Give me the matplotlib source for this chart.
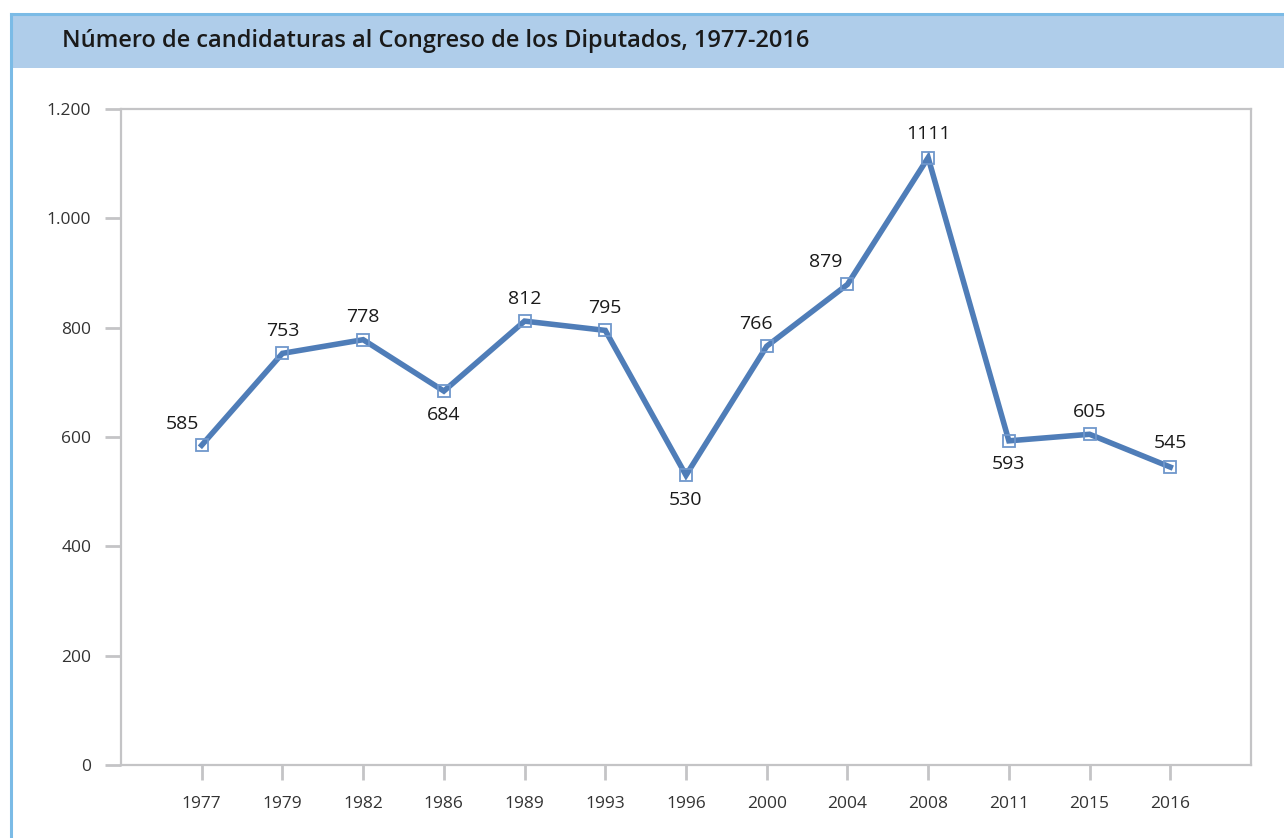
import matplotlib.pyplot as plt
from matplotlib.patches import Rectangle
from matplotlib.lines import Line2D
from matplotlib.ticker import FuncFormatter

years = ['1977', '1979', '1982', '1986', '1989', '1993', '1996',
         '2000', '2004', '2008', '2011', '2015', '2016']
candidaturas = [585, 753, 778, 684, 812, 795, 530, 766, 879, 1111, 593, 605, 545]
# where the label sits: offset in points (dx, dy)
label_pos = [(-14, 15), (0, 16), (0, 16), (0, -17), (0, 16), (0, 16), (0, -18),
             (-8, 16), (-16, 16), (0, 17), (0, -17), (0, 16), (0, 17)]

title = 'Número de candidaturas al Congreso de los Diputados, 1977-2016'

plt.rcParams['font.family'] = ['Open Sans', 'DejaVu Sans']

fig = plt.figure(figsize=(12.84, 8.38), dpi=100)
W, H = 1284, 838

# header band and outer frame
fig.patches.append(Rectangle((10 / W, 1 - 68 / H), 1 - 10 / W, 54 / H,
                             transform=fig.transFigure, facecolor='#afcdea',
                             edgecolor='none', zorder=0))
fig.lines.append(Line2D([11 / W, 11 / W], [0, 1 - 14 / H], transform=fig.transFigure,
                        color='#7bbbe6', lw=2.2))
fig.lines.append(Line2D([11 / W, 1], [1 - 14 / H, 1 - 14 / H], transform=fig.transFigure,
                        color='#7bbbe6', lw=2.2))
fig.text(62 / W, 1 - 41 / H, title, fontsize=17, fontweight='semibold',
         color='#1a1a1a', va='center', ha='left')

ax = fig.add_axes([121 / W, 1 - 765 / H, (1251 - 121) / W, (765 - 109) / H])
x = list(range(len(years)))
ax.plot(x, candidaturas, color='#4f7db8', lw=4, solid_joinstyle='miter', zorder=2)
ax.plot(x, candidaturas, ls='none', marker='s', ms=9, mfc='none',
        mec='#6f97cc', mew=1.3, zorder=3)

for xi, v, (dx, dy) in zip(x, candidaturas, label_pos):
    ax.annotate(str(v), (xi, v), xytext=(dx, dy), textcoords='offset points',
                ha='center', va='center', fontsize=14, color='#1a1a1a')

ax.set_xlim(-1, 13)
ax.set_ylim(0, 1200)
ax.set_xticks(x)
ax.set_xticklabels(years)
ax.set_yticks([0, 200, 400, 600, 800, 1000, 1200])
ax.yaxis.set_major_formatter(FuncFormatter(lambda v, p: f'{int(v):,}'.replace(',', '.')))

for s in ax.spines.values():
    s.set_color('#c4c4c6')
    s.set_linewidth(1.6)
ax.tick_params(axis='x', length=11, width=2, color='#c4c4c6', pad=11,
               labelsize=12.5, labelcolor='#333333')
ax.tick_params(axis='y', length=11.5, width=2, color='#c4c4c6', pad=10,
               labelsize=12.5, labelcolor='#333333')

fig.savefig('out.png', dpi=100)
